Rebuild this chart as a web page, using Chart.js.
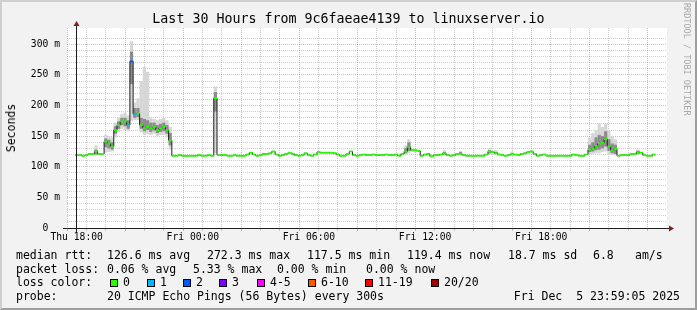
<!DOCTYPE html>
<html><head><meta charset="utf-8">
<script src="https://cdn.jsdelivr.net/npm/chart.js@4/dist/chart.umd.min.js"></script>
<style>
html,body{margin:0;padding:0;background:#F2F2F2;}
#wrap{position:relative;width:697px;height:310px;background:#F2F2F2;overflow:hidden;font-family:'DejaVu Sans Mono',monospace;color:#000;}
#frame{position:absolute;left:0;top:0;width:697px;height:310px;box-sizing:border-box;border-top:2px solid #CFCFCF;border-left:2px solid #CFCFCF;border-right:2px solid #9E9E9E;border-bottom:2px solid #9E9E9E;pointer-events:none;}
canvas{position:absolute;left:0;top:0;}
.t{position:absolute;white-space:pre;font-size:11.5px;line-height:14px;}
.sq{position:absolute;width:6px;height:6px;border:1px solid #000;}
#title{position:absolute;left:0;top:11px;width:697px;text-align:center;font-size:13.3px;line-height:16px;white-space:pre;}
#ylab{position:absolute;left:10.5px;top:127.5px;transform:translate(-50%,-50%) rotate(-90deg);font-size:11.5px;white-space:pre;}
#credit{position:absolute;left:682px;top:3px;writing-mode:vertical-rl;font-size:8.5px;color:#a8a8a8;white-space:pre;}
</style></head>
<body>
<div id="wrap">
<canvas id="c" width="697" height="310"></canvas>
<div id="title">Last 30 Hours from 9c6faeae4139 to linuxserver.io</div>
<div id="ylab">Seconds</div>
<div id="credit">RRDTOOL / TOBI OETIKER</div>
<div id="legend"></div>
<div id="frame"></div>
</div>
<script>
// ---- data (10-minute samples starting Thu 18:00) ----
const medianMs = [
 119,119,118,119,121,121,125,121,121,141,
 138,133,160,168,174,174,168,272,186,187,
 168,163,165,163,165,160,163,165,160,143,
 118,118,119,118,118,118,118,118,119,118,
 118,119,118,212,119,119,119,118,118,119,
 118,118,118,120,123,120,118,119,121,121,
 122,125,120,118,119,121,123,121,119,118,
 119,122,119,118,120,124,123,123,123,123,
 122,120,118,118,121,125,119,118,119,120,
 119,119,120,119,119,119,120,119,119,120,
 118,121,125,132,127,127,126,118,120,121,
 117,119,119,120,122,119,118,119,121,121,
 119,118,118,118,118,118,118,120,125,124,
 122,120,119,118,119,120,120,119,121,122,
 124,125,121,118,119,120,118,118,118,118,
 118,118,118,118,120,119,118,118,120,128,
 130,134,138,139,145,133,127,129,118,119,
 119,119,121,121,124,123,119,118,118,120
];
// smoke (ping spread) where visible
const smokeIndex = [6,9,10,11,12,13,14,15,16,17,18,19,20,21,22,23,24,25,26,27,28,29,43,102,103,114,119,128,130,135,159,160,161,162,163,164,165,166,167,174];
const smokeMin   = [118,124,124,125,148,156,162,160,158,175,176,176,156,152,154,152,154,150,152,152,148,128,122,120,122,119,119,120,120,119,120,121,122,122,124,125,120,120,119,119];
const smokeQ1    = [120,132,130,128,154,162,168,166,162,235,180,181,162,158,160,157,159,155,157,158,154,135,190,122,126,120,120,122,121,120,124,125,127,128,130,133,126,122,121,121];
const smokeQ3    = [128,146,144,140,166,174,180,180,176,288,196,196,180,178,176,172,172,168,170,172,168,155,222,130,140,124,124,127,124,122,136,140,148,152,150,158,145,138,136,126];
const smokeMax   = [135,152,150,148,172,180,186,188,184,305,205,212,240,263,255,180,178,176,178,180,176,165,231,135,145,127,126,130,127,125,148,155,160,171,165,171,160,150,145,128];
// packet loss (pings lost of 20) where non-zero
const lossIndex = [16,17,18];
const lossCount = [1,2,1];

const xTickLabels = ['Thu 18:00','Fri 00:00','Fri 06:00','Fri 12:00','Fri 18:00'];
const yTickValues = [0,50,100,150,200,250,300];
const yTickTexts  = ['0  ','50 m','100 m','150 m','200 m','250 m','300 m'];
const lossLegendLabels = ['0','1','2','3','4-5','6-10','11-19','20/20'];
const lossLegendColors = ['#26ff00','#00b8ff','#0059ff','#7e00ff','#ff00ff','#ff5500','#ff0000','#a10000'];

// ---- derived ----
const STEP_H = 1/6;
const BAND = 1.5;
function lossClass(n){ if(n<=3) return n; if(n<=5) return 4; if(n<=10) return 5; if(n<=19) return 6; return 7; }
const lossAt = {}; lossIndex.forEach((idx,k)=>{ lossAt[idx]=lossCount[k]; });

const medianLine = medianMs.map((v,i)=>({x:i*STEP_H, y:v}));
const medianBand = medianMs.map((v,i)=>({x:i*STEP_H, y:[v-BAND, v+BAND]}));
const bandColors = medianMs.map((v,i)=>lossLegendColors[lossClass(lossAt[i]||0)]);
const smokeOuter = smokeIndex.map((idx,k)=>({x:idx*STEP_H, y:[smokeMin[k], smokeMax[k]]}));
const smokeInner = smokeIndex.map((idx,k)=>({x:idx*STEP_H, y:[smokeQ1[k], smokeQ3[k]]}));

const MINOR = 'rgba(143,143,143,0.45)';
const MAJOR = 'rgba(222,79,79,0.45)';
const CLEAR = 'rgba(0,0,0,0)';
const near = (v)=>Math.abs(v-Math.round(v))<1e-6;
const xGridColor = (c)=>{ if(!c.tick) return CLEAR; const v=c.tick.value; return near(v/3)?MAJOR:MINOR; };
const yGridColor = (c)=>{ if(!c.tick) return CLEAR; const v=c.tick.value; if(!near(v/10)) return CLEAR; return near(v/50)?MAJOR:MINOR; };

const rrdPlugin = {
  id:'rrd',
  beforeDraw(chart){
    const {ctx, chartArea:a} = chart;
    ctx.save(); ctx.fillStyle='#FFFFFF';
    ctx.fillRect(a.left, a.top, a.right-a.left, a.bottom-a.top);
    ctx.restore();
  },
  afterDraw(chart){
    const {ctx, chartArea:a} = chart;
    const y0 = Math.floor(chart.scales.y.getPixelForValue(0))+0.5;
    const x0 = Math.floor(chart.scales.x.getPixelForValue(0))+0.5;
    ctx.save();
    ctx.strokeStyle='#1f1f1f'; ctx.lineWidth=1;
    ctx.beginPath();
    ctx.moveTo(a.left-4, y0); ctx.lineTo(a.right+2, y0);
    ctx.moveTo(x0, y0+4); ctx.lineTo(x0, a.top-2);
    ctx.stroke();
    ctx.fillStyle='#801f1f';
    ctx.beginPath();
    ctx.moveTo(x0, a.top-7); ctx.lineTo(x0-3, a.top-2); ctx.lineTo(x0+3, a.top-2); ctx.closePath(); ctx.fill();
    ctx.beginPath();
    ctx.moveTo(a.right+7, y0); ctx.lineTo(a.right+2, y0-3); ctx.lineTo(a.right+2, y0+3); ctx.closePath(); ctx.fill();
    ctx.restore();
  }
};

const barCommon = {type:'bar', grouped:false, barPercentage:1, categoryPercentage:1, borderWidth:0, inflateAmount:0};

new Chart(document.getElementById('c'), {
  data:{datasets:[
    Object.assign({}, barCommon, {data:smokeOuter, backgroundColor:'#d6d6d6', order:5}),
    Object.assign({}, barCommon, {data:smokeInner, backgroundColor:'#8c8c8c', order:4}),
    {type:'line', data:medianLine, borderColor:'#202020', borderWidth:1, stepped:'middle', pointRadius:0, order:3},
    Object.assign({}, barCommon, {data:medianBand, backgroundColor:bandColors, order:1})
  ]},
  options:{
    responsive:false, animation:false, events:[],
    layout:{padding:{top:28,right:30,bottom:0,left:0}},
    plugins:{legend:{display:false}, tooltip:{enabled:false}},
    scales:{
      x:{type:'linear', min:0, max:30,
        afterFit(s){ s.height = 82; },
        border:{display:false, dash:[1,1]},
        grid:{color:xGridColor, tickColor:xGridColor, tickLength:3, drawTicks:true},
        ticks:{stepSize:1, autoSkip:false, maxRotation:0, minRotation:0, padding:1, color:'#000',
          font:{family:'DejaVu Sans Mono', size:9.7},
          callback:(v)=>{ if(near(v/6)){ const k=Math.round(v/6); return xTickLabels[k]||''; } return ''; }}
      },
      y:{type:'linear', min:0, max:326.6,
        afterFit(s){ s.width = 67; },
        border:{display:false, dash:[1,1]},
        grid:{color:yGridColor, drawTicks:false},
        ticks:{stepSize:10, autoSkip:false, padding:7, color:'#000',
          font:{family:'DejaVu Sans Mono', size:9.7},
          callback:(v)=>{ const k=yTickValues.findIndex(t=>Math.abs(t-v)<1e-6); return k>=0?yTickTexts[k]:''; }}
      }
    }
  },
  plugins:[rrdPlugin]
});

// ---- legend text ----
const L = document.getElementById('legend');
function txt(x, top, s, right){
  const d=document.createElement('div'); d.className='t'; d.textContent=s; d.style.top=top+'px';
  if(right){ d.style.right=(697-x)+'px'; } else { d.style.left=x+'px'; }
  L.appendChild(d);
}
const line1=[[16,'median rtt:'],[107,'126.6 ms avg'],[207,'272.3 ms max'],[307,'117.5 ms min'],[407,'119.4 ms now'],[508,'18.7 ms sd'],[593,'6.8'],[635,'am/s']];
const line2=[[16,'packet loss:'],[107,'0.06 % avg'],[193,'5.33 % max'],[277,'0.00 % min'],[366,'0.00 % now']];
line1.forEach(p=>txt(p[0],248,p[1]));
line2.forEach(p=>txt(p[0],261.5,p[1]));
txt(16,275,'loss color:');
const sqX=[110,147,183,219,257,308,365,431];
lossLegendLabels.forEach((lab,k)=>{
  const s=document.createElement('div'); s.className='sq'; s.style.left=sqX[k]+'px'; s.style.top='278.5px'; s.style.background=lossLegendColors[k]; L.appendChild(s);
  txt(sqX[k]+13,275,lab);
});
txt(16,289,'probe:');
txt(107,289,'20 ICMP Echo Pings (56 Bytes) every 300s');
txt(680,289,'Fri Dec  5 23:59:05 2025',true);
</script>
</body></html>
